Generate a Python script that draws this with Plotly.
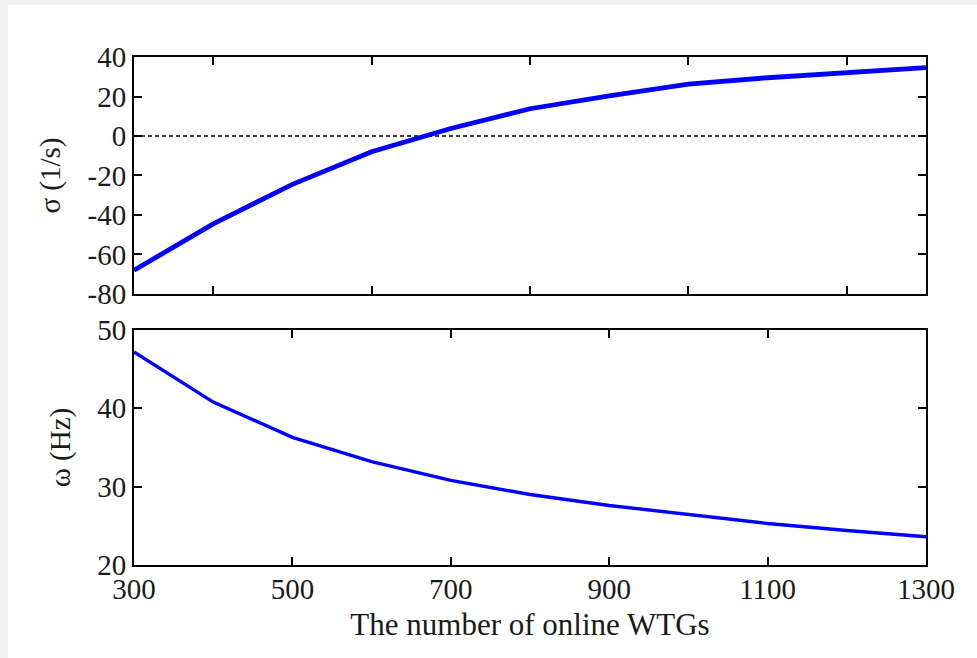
import plotly.graph_objects as go
from plotly.subplots import make_subplots

wtgs = [300, 400, 500, 600, 700, 800, 900, 1000, 1100, 1200, 1300]
sigma = [-68, -44.5, -24.5, -8, 3.8, 13.8, 20.3, 26.3, 29.5, 32.2, 34.6]
omega = [47.2, 40.8, 36.3, 33.2, 30.8, 29.0, 27.6, 26.4, 25.3, 24.4, 23.6]
zero_line = [0, 0]

top_xticks = [400, 600, 800, 1000, 1200]
bottom_xticks = [300, 500, 700, 900, 1100, 1300]
bottom_xlabels = ["300", "500", "700", "900", "1100", "1300"]
sigma_ticks = [-80, -60, -40, -20, 0, 20, 40]
sigma_labels = ["-80", "-60", "-40", "-20", "0", "20", "40"]
omega_ticks = [20, 30, 40, 50]
omega_labels = ["20", "30", "40", "50"]

FONT = "Liberation Serif, Times New Roman, serif"
FS = 29
TXT = "#1a1a1a"

fig = make_subplots(rows=2, cols=1, shared_xaxes=False, vertical_spacing=0.07)

fig.add_trace(go.Scatter(x=[wtgs[0], wtgs[-1]], y=zero_line, mode="lines",
                         line=dict(color="black", width=1.5, dash="4px,3px"),
                         showlegend=False, hoverinfo="skip"), row=1, col=1)
fig.add_trace(go.Scatter(x=wtgs, y=sigma, mode="lines",
                         line=dict(color="#0000ff", width=4.8),
                         showlegend=False), row=1, col=1)
fig.add_trace(go.Scatter(x=wtgs, y=omega, mode="lines",
                         line=dict(color="#0000ff", width=3.4),
                         showlegend=False), row=2, col=1)

axis_common = dict(showline=True, linecolor="black", linewidth=2, mirror="allticks",
                   ticks="inside", ticklen=8, tickwidth=2, tickcolor="black",
                   showgrid=False, zeroline=False,
                   tickfont=dict(family=FONT, size=FS, color=TXT))

fig.update_xaxes(range=[300, 1300], tickvals=top_xticks, showticklabels=False,
                 domain=[0, 1], row=1, col=1, **axis_common)
fig.update_xaxes(range=[300, 1300], tickvals=bottom_xticks, ticktext=bottom_xlabels,
                 domain=[0, 1], ticklabelstandoff=-3,
                 title=dict(text="The number of online WTGs",
                            font=dict(family=FONT, size=31, color=TXT), standoff=10),
                 row=2, col=1, **axis_common)
fig.update_yaxes(range=[-80, 40], tickvals=sigma_ticks, ticktext=sigma_labels,
                 domain=[0.5335, 1],
                 title=dict(text="σ (1/s)", font=dict(family=FONT, size=FS, color=TXT), standoff=18),
                 row=1, col=1, **axis_common)
fig.update_yaxes(range=[20, 50], tickvals=omega_ticks, ticktext=omega_labels,
                 domain=[0, 0.4626],
                 title=dict(text="ω (Hz)", font=dict(family=FONT, size=FS, color=TXT), standoff=18),
                 row=2, col=1, **axis_common)

fig.update_layout(width=969, height=653, margin=dict(l=126, r=51, t=52, b=93),
                  paper_bgcolor="white", plot_bgcolor="white",
                  font=dict(family=FONT, size=FS, color=TXT))

fig.write_html("out.html",
               post_script="document.body.style.margin='5px 0 0 8px';"
                           "document.body.style.background='#f2f2f2';")
